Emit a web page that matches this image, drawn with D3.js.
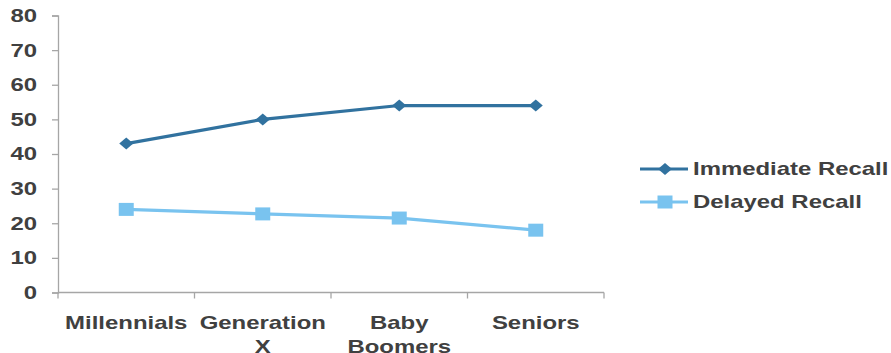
<!DOCTYPE html>
<html><head><meta charset="utf-8">
<script src="https://cdn.jsdelivr.net/npm/d3@7"></script>
<style>body{margin:0;background:#fff}svg{display:block}text{font-family:"Liberation Sans",Arial,sans-serif;font-weight:bold;fill:#404040}</style>
</head><body>
<script>
const categories = [["Millennials"], ["Generation", "X"], ["Baby", "Boomers"], ["Seniors"]];
const immediateRecall = [43, 50, 54, 54];
const delayedRecall = [24, 22.7, 21.5, 18];
const yTicks = [0, 10, 20, 30, 40, 50, 60, 70, 80];
const seriesNames = ["Immediate Recall", "Delayed Recall"];

const W = 891, H = 353, SX = 1.33, FS = 18;
const svg = d3.select("body").append("svg").attr("width", W).attr("height", H);
const keys = categories.map(c => c.join(" "));
const x = d3.scaleBand().domain(keys).range([58, 604]).padding(0);
const y = d3.scaleLinear().domain([0, 80]).range([292.5, 15.5]);
const axisCol = "#A6A6A6";

// y axis
const yAxis = svg.append("g").attr("transform", "translate(58,0)")
  .call(d3.axisLeft(y).tickValues(yTicks).tickSize(6).tickFormat(""));
yAxis.select(".domain").attr("stroke", axisCol).attr("stroke-width", 1.3);
yAxis.selectAll(".tick line").attr("stroke", axisCol).attr("stroke-width", 1.3);
svg.append("g").selectAll("text").data(yTicks).join("text")
  .attr("transform", d => `translate(37,${y(d)}) scale(${SX},1)`)
  .attr("text-anchor", "end").attr("dy", "0.36em").attr("font-size", FS)
  .text(d => d);

// x axis
svg.append("line").attr("x1", 58).attr("x2", 604).attr("y1", y(0)).attr("y2", y(0))
  .attr("stroke", axisCol).attr("stroke-width", 1.3);
const bounds = keys.map(k => x(k)).concat([x.range()[1]]);
svg.append("g").selectAll("line").data(bounds).join("line")
  .attr("x1", d => d).attr("x2", d => d).attr("y1", y(0)).attr("y2", y(0) + 6)
  .attr("stroke", axisCol).attr("stroke-width", 1.3);
const xl = svg.append("g").selectAll("g").data(categories).join("g")
  .attr("transform", (d, i) => `translate(${x(keys[i]) + x.bandwidth() / 2},329)`);
xl.selectAll("text").data(d => d).join("text")
  .attr("transform", (d, j) => `translate(0,${j * 24}) scale(${SX},1)`)
  .attr("text-anchor", "middle").attr("font-size", FS).text(d => d);

const diamond = "M-7,0L0,-6L7,0L0,6Z";
const square = "M-7.5,-6.5H7.5V6.5H-7.5Z";
const series = [
  { name: seriesNames[0], values: immediateRecall, color: "#31729F", marker: diamond },
  { name: seriesNames[1], values: delayedRecall, color: "#79C3EF", marker: square }
];
const line = d3.line().x((d, i) => x(keys[i]) + x.bandwidth() / 2).y(d => y(d));
series.forEach(s => {
  svg.append("path").datum(s.values).attr("d", line).attr("fill", "none")
    .attr("stroke", s.color).attr("stroke-width", 3.2);
  svg.append("g").selectAll("path").data(s.values).join("path")
    .attr("d", s.marker)
    .attr("transform", (d, i) => `translate(${x(keys[i]) + x.bandwidth() / 2},${y(d)})`)
    .attr("fill", s.color);
});

// legend
const lg = svg.append("g").selectAll("g").data(series).join("g")
  .attr("transform", (d, i) => `translate(640,${169 + i * 33})`);
lg.append("line").attr("x1", 0).attr("x2", 48).attr("stroke", d => d.color).attr("stroke-width", 3.2);
lg.append("path").attr("d", d => d.marker).attr("transform", "translate(25,0)")
  .attr("fill", d => d.color);
lg.append("text").attr("transform", `translate(53,0) scale(${SX},1)`).attr("dy", "0.36em")
  .attr("font-size", FS).text(d => d.name);
</script>
</body></html>
